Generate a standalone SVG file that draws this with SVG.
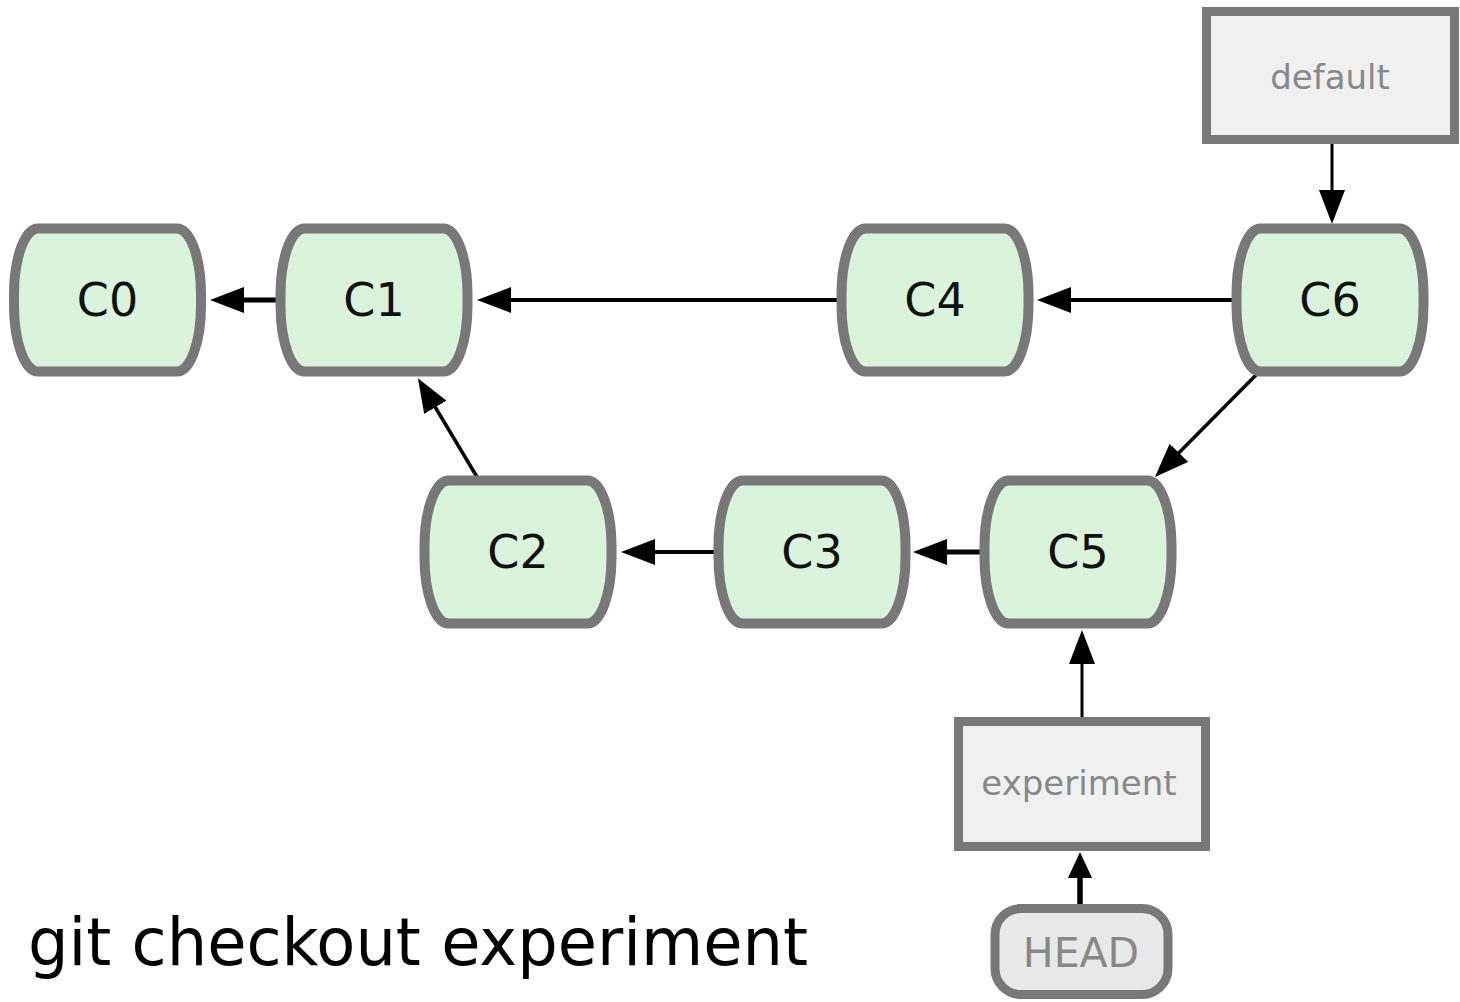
<svg xmlns="http://www.w3.org/2000/svg" xmlns:xlink="http://www.w3.org/1999/xlink" width="1460" height="1002" viewBox="0 0 1460 1002">
<style>
.commit{fill:#daf4dc;stroke:#787878;stroke-width:10;stroke-linejoin:round}
.ctext{font-family:"DejaVu Sans","Liberation Sans",sans-serif;font-size:46px;fill:#111;text-anchor:middle}
.branch{fill:#f0f0f0;stroke:#787878;stroke-width:9}
.btext{font-family:"DejaVu Sans","Liberation Sans",sans-serif;font-size:34px;fill:#888;text-anchor:middle}
.htext{font-family:"DejaVu Sans","Liberation Sans",sans-serif;font-size:41px;fill:#888;text-anchor:middle}
.edge{stroke:#000;fill:none}
</style>
<defs>
<rect id="commitShape" x="-93.5" y="-71.5" width="187" height="143" rx="24" ry="66"/>
<marker id="ah" markerUnits="userSpaceOnUse" viewBox="0 0 34 26" refX="26" refY="13" markerWidth="34" markerHeight="26" orient="auto">
<path d="M0,0 L34,13 L0,26 Z" fill="#000"/>
</marker>
<marker id="ahs" markerUnits="userSpaceOnUse" viewBox="0 0 26 24" refX="18" refY="12" markerWidth="26" markerHeight="24" orient="auto">
<path d="M0,0 L26,12 L0,24 Z" fill="#000"/>
</marker>
</defs>
<rect width="1460" height="1002" fill="#fff"/>
<g id="connectors">
<line class="edge" x1="279" y1="300" x2="218" y2="300" stroke-width="5" marker-end="url(#ah)"/>
<line class="edge" x1="840" y1="300" x2="485" y2="300" stroke-width="4" marker-end="url(#ah)"/>
<line class="edge" x1="1234" y1="300" x2="1045" y2="300" stroke-width="4" marker-end="url(#ah)"/>
<line class="edge" x1="716" y1="552" x2="629" y2="552" stroke-width="4" marker-end="url(#ah)"/>
<line class="edge" x1="982" y1="552" x2="921" y2="552" stroke-width="5" marker-end="url(#ah)"/>
<line class="edge" x1="477" y1="477" x2="422" y2="385" stroke-width="3.5" marker-end="url(#ah)"/>
<line class="edge" x1="1257" y1="374" x2="1160.6" y2="471.3" stroke-width="3.5" marker-end="url(#ah)"/>
<line class="edge" x1="1332" y1="144" x2="1332" y2="216" stroke-width="3" marker-end="url(#ah)"/>
<line class="edge" x1="1082" y1="717" x2="1082" y2="638" stroke-width="3" marker-end="url(#ah)"/>
<line class="edge" x1="1080" y1="904" x2="1080" y2="860" stroke-width="5.5" marker-end="url(#ahs)"/>
</g>
<g id="C0" transform="translate(107.5,300)"><use xlink:href="#commitShape" class="commit"/><text class="ctext" y="16">C0</text></g>
<g id="C1" transform="translate(374,300)"><use xlink:href="#commitShape" class="commit"/><text class="ctext" y="16">C1</text></g>
<g id="C4" transform="translate(935,300)"><use xlink:href="#commitShape" class="commit"/><text class="ctext" y="16">C4</text></g>
<g id="C6" transform="translate(1330,300)"><use xlink:href="#commitShape" class="commit"/><text class="ctext" y="16">C6</text></g>
<g id="C2" transform="translate(518,552)"><use xlink:href="#commitShape" class="commit"/><text class="ctext" y="16">C2</text></g>
<g id="C3" transform="translate(812,552)"><use xlink:href="#commitShape" class="commit"/><text class="ctext" y="16">C3</text></g>
<g id="C5" transform="translate(1078,552)"><use xlink:href="#commitShape" class="commit"/><text class="ctext" y="16">C5</text></g>
<g id="default"><rect class="branch" x="1206.5" y="11.5" width="248" height="128"/><text class="btext" x="1330" y="89">default</text></g>
<g id="experiment"><rect class="branch" x="958.5" y="721.5" width="247" height="125"/><text class="btext" x="1079" y="795">experiment</text></g>
<g id="HEAD"><rect x="995" y="908.5" width="173" height="86" rx="26" fill="#e8e8e8" stroke="#787878" stroke-width="9"/><text class="htext" x="1081" y="967">HEAD</text></g>
<text id="title" x="28" y="965" font-family="&quot;DejaVu Sans&quot;,&quot;Liberation Sans&quot;,sans-serif" font-size="66" fill="#000" textLength="780" lengthAdjust="spacingAndGlyphs">git checkout experiment</text>
</svg>
